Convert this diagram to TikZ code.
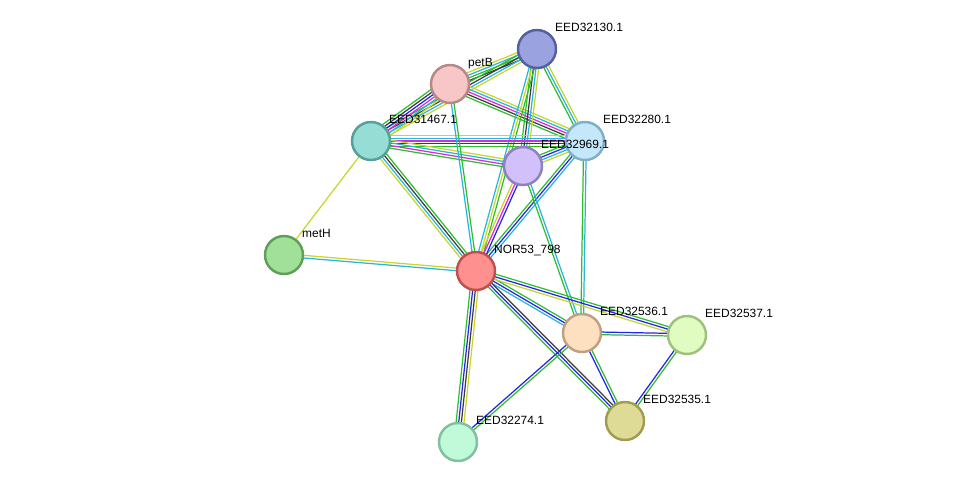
\documentclass[tikz,border=0pt]{standalone}
\usepackage{fontspec}
\setmainfont{Liberation Sans}
\usetikzlibrary{calc,backgrounds}
\definecolor{tm}{RGB}{199,214,40}
\definecolor{nb}{RGB}{45,190,45}
\definecolor{co}{RGB}{35,35,235}
\definecolor{db}{RGB}{40,180,220}
\definecolor{ex}{RGB}{220,40,215}
\definecolor{ce}{RGB}{60,60,60}
\definecolor{f130}{RGB}{154,163,224}\definecolor{d130}{RGB}{85,96,160}
\definecolor{fpetB}{RGB}{247,198,198}\definecolor{dpetB}{RGB}{184,136,136}
\definecolor{f467}{RGB}{150,221,213}\definecolor{d467}{RGB}{85,160,152}
\definecolor{f280}{RGB}{196,232,250}\definecolor{d280}{RGB}{128,175,200}
\definecolor{f969}{RGB}{210,192,250}\definecolor{d969}{RGB}{144,128,192}
\definecolor{fmetH}{RGB}{160,224,152}\definecolor{dmetH}{RGB}{95,159,88}
\definecolor{fnor}{RGB}{255,144,144}\definecolor{dnor}{RGB}{192,80,80}
\definecolor{f536}{RGB}{253,224,192}\definecolor{d536}{RGB}{192,160,128}
\definecolor{f537}{RGB}{224,252,192}\definecolor{d537}{RGB}{160,192,128}
\definecolor{f535}{RGB}{222,219,150}\definecolor{d535}{RGB}{160,156,80}
\definecolor{f274}{RGB}{192,250,216}\definecolor{d274}{RGB}{128,192,160}
\newcounter{nlines}
\newcommand\ppilink[3]{%
  \setcounter{nlines}{0}%
  \foreach \c in {#3}{\stepcounter{nlines}}%
  \foreach \c [count=\i] in {#3}{%
    \pgfmathsetmacro\off{(\i-(\arabic{nlines}+1)/2)*1.5}%
    \draw[\c,link] ($(#1)!\off pt!90:(#2)$) -- ($(#2)!\off pt!-90:(#1)$);
  }}
\tikzset{
  prot/.style={circle, inner sep=0pt, minimum size=0.76cm, line width=1.4pt, fill=f#1, draw=d#1},
  lbl/.style={anchor=base west, inner sep=0pt, label distance=0.1cm, font=\fontsize{6.8}{8}\selectfont},
  link/.style={line width=0.7pt}
}
\begin{document}
\begin{tikzpicture}[x=0.02cm, y=-0.02cm]
\useasboundingbox (0,0) rectangle (975,488);
\node[prot=130, label={[lbl]45:EED32130.1}] (e130) at (537,49) {};
\node[prot=petB, label={[lbl]45:petB}] (petB) at (450,84) {};
\node[prot=467, label={[lbl]45:EED31467.1}] (e467) at (371,141) {};
\node[prot=280, label={[lbl]45:EED32280.1}] (e280) at (585,141) {};
\node[prot=969, label={[lbl]45:EED32969.1}] (e969) at (523,166) {};
\node[prot=metH, label={[lbl]45:metH}] (metH) at (284,255) {};
\node[prot=nor, label={[lbl]45:NOR53\_798}] (nor) at (476,271) {};
\node[prot=536, label={[lbl]45:EED32536.1}] (e536) at (582,333) {};
\node[prot=537, label={[lbl]45:EED32537.1}] (e537) at (687,335) {};
\node[prot=535, label={[lbl]45:EED32535.1}] (e535) at (625,421) {};
\node[prot=274, label={[lbl]45:EED32274.1}] (e274) at (458,442) {};
\begin{scope}[on background layer]
\ppilink{petB}{e130}{ce,nb,db,tm}
\ppilink{e467}{e130}{tm,db,ce,nb}
\ppilink{e467}{petB}{tm,db,ex,co,ce,nb}
\ppilink{petB}{e280}{nb,ce,ex,db,tm}
\ppilink{e130}{e280}{nb,db,tm}
\ppilink{e130}{e969}{nb,ce,db,tm}
\ppilink{e130}{nor}{db,tm,nb}
\ppilink{e467}{e280}{nb,ce,ex,db,tm}
\ppilink{e467}{e969}{nb,ex,db,tm}
\ppilink{e467}{metH}{tm}
\ppilink{e467}{nor}{tm,db,ce,nb}
\ppilink{e280}{e969}{nb,co,db,tm}
\ppilink{e280}{nor}{nb,co,db}
\ppilink{e280}{e536}{nb,db}
\ppilink{e969}{nor}{tm,ex,co}
\ppilink{e969}{e536}{nb,db}
\ppilink{petB}{nor}{db,nb}
\ppilink{metH}{nor}{db,tm}
\ppilink{nor}{e536}{db,co,nb}
\ppilink{nor}{e537}{tm,co,nb}
\ppilink{nor}{e535}{nb,co,ce}
\ppilink{nor}{e274}{nb,co,ce,tm}
\ppilink{e536}{e537}{nb,co}
\ppilink{e536}{e535}{co,nb}
\ppilink{e536}{e274}{co,nb}
\ppilink{e537}{e535}{co,nb}
\end{scope}
\end{tikzpicture}
\end{document}
